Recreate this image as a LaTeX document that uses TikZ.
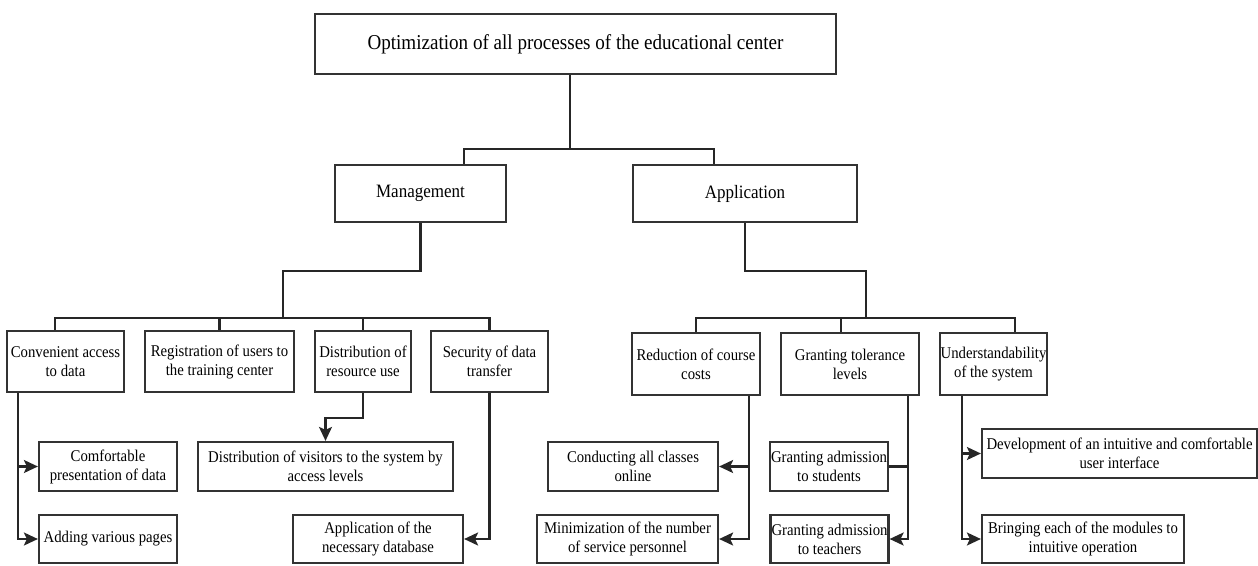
\documentclass[tikz,border=0pt]{standalone}
\usepackage{fontspec}
\usetikzlibrary{arrows.meta}
\setmainfont[FakeStretch=0.9]{Liberation Serif}
\begin{document}
\begin{tikzpicture}[>={Stealth[length=14pt,width=13pt,inset=3pt]}, x=1pt, y=-1pt, line width=2.2pt, draw=black!85,
    main node/.style={draw=black!80, align=center, inner sep=1pt, font=\fontsize{16.4}{19}\selectfont},
    mid node/.style={main node, font=\fontsize{18.9}{21}\selectfont, minimum height=57pt},
    top node/.style={main node, font=\fontsize{21.2}{24}\selectfont, minimum width=521pt, minimum height=60pt}]
  \useasboundingbox (0,0) rectangle (1258,565);

  \node[top node] (1) at (575.5,44) {Optimization of all processes of the educational center};
  \node[mid node, minimum width=171pt] (2) at (420.5,193.5) {Management};
  \node[mid node, minimum width=224pt] (3) at (745,193.5) {Application};

  % second level
  \node[main node, minimum width=117pt, minimum height=61pt] (4) at (65.5,361.5) {Convenient access\\to data};
  \node[main node, minimum width=149pt, minimum height=61pt] (5) at (219.5,361.5) {Registration of users to\\the training center};
  \node[main node, minimum width=96pt, minimum height=61pt] (6) at (363,361.5) {Distribution of\\resource use};
  \node[main node, minimum width=117pt, minimum height=61pt] (7) at (489.5,361.5) {Security of data\\transfer};
  \node[main node, minimum width=128pt, minimum height=62pt] (8) at (696,364) {Reduction of course\\costs};
  \node[main node, minimum width=138pt, minimum height=62pt] (9) at (850,364) {Granting tolerance\\levels};
  \node[main node, minimum width=107pt, minimum height=62pt] (10) at (993.5,364) {Understandability\\of the system};

  % leaves
  \node[main node, minimum width=138pt, minimum height=49pt] (11) at (108,466.5) {Comfortable\\presentation of data};
  \node[main node, minimum width=138pt, minimum height=48pt] (12) at (108,539) {Adding various pages};
  \node[main node, minimum width=255pt, minimum height=49pt] (13) at (325.5,466.5) {Distribution of visitors to the system by\\access levels};
  \node[main node, minimum width=170pt, minimum height=48pt] (14) at (378,539) {Application of the\\necessary database};
  \node[main node, minimum width=170pt, minimum height=49pt] (15) at (633,466.5) {Conducting all classes\\online};
  \node[main node, minimum width=181pt, minimum height=48pt] (16) at (627.5,539) {Minimization of the number\\of service personnel};
  \node[main node, minimum width=116pt, minimum height=49pt] (17) at (829,466.5) {Granting admission\\to students};
  \node[main node, minimum width=117pt, minimum height=48pt] (18) at (829.5,539) {Granting admission\\to teachers};
  \node[main node, minimum width=275pt, minimum height=49pt] (19) at (1119.5,453.5) {Development of an intuitive and comfortable\\user interface};
  \node[main node, minimum width=202pt, minimum height=48pt] (20) at (1083,539) {Bringing each of the modules to\\intuitive operation};

  \coordinate (m) at (283,318);
  \coordinate (a) at (866,318);

  \draw ([xshift=-5.5pt]1.south) -- ++(0,74) -| ([xshift=43.5pt]2.north);
  \draw ([xshift=-5.5pt]1.south) -- ++(0,74) -| ([xshift=-31pt]3.north);
  \draw (2.south) -- ++(0,48) -| (m);
  \draw (3.south) -- ++(0,48) -| (a);
  \draw (m) -| ([xshift=-10.5pt]4.north);
  \draw (m) -| (5.north);
  \draw (m) -| (6.north);
  \draw (m) -| (7.north);
  \draw (a) -| (8.north);
  \draw (a) -| ([xshift=-9pt]9.north);
  \draw (a) -| ([xshift=21.5pt]10.north);

  \draw[->] ([xshift=-47.5pt]4.south) |- (11.west);
  \draw[->] ([xshift=-47.5pt]4.south) |- (12.west);
  \draw[->] (6.south) -- ++(0,25) -| (13.north);
  \draw[->] (7.south) |- (14.east);
  \draw[->] ([xshift=53pt]8.south) |- (15.east);
  \draw[->] ([xshift=53pt]8.south) |- (16.east);
  \draw ([xshift=58pt]9.south) |- (17.east);
  \draw[->] ([xshift=58pt]9.south) |- (18.east);
  \draw[->] ([xshift=-31.5pt]10.south) |- (19.west);
  \draw[->] ([xshift=-31.5pt]10.south) |- (20.west);
\end{tikzpicture}
\end{document}
